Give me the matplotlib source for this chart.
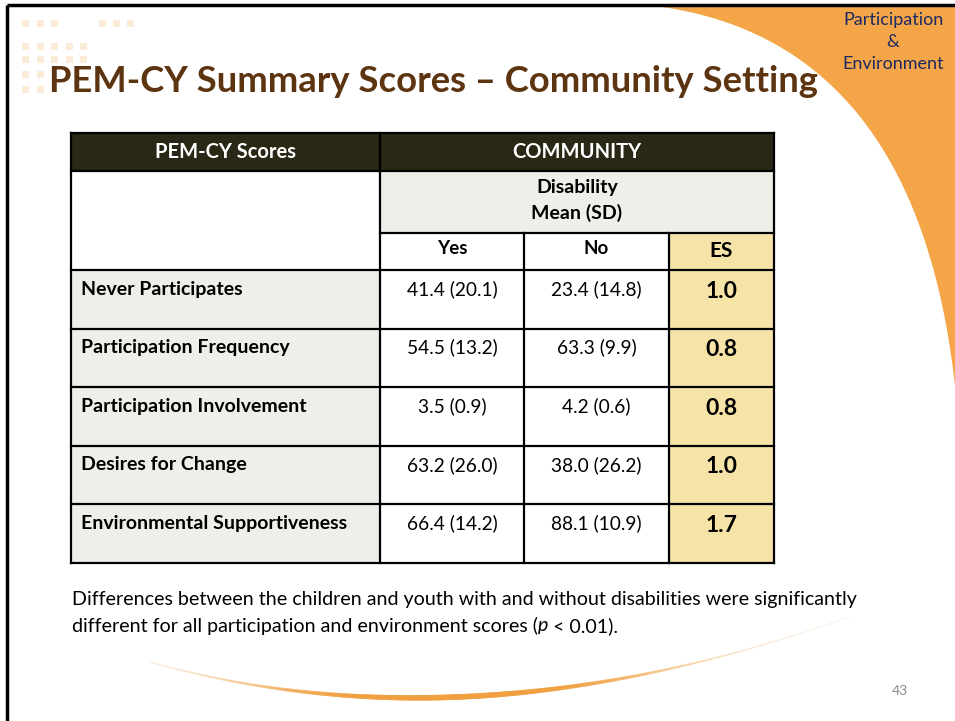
import numpy as np
import matplotlib
matplotlib.use('Agg')
import matplotlib.pyplot as plt
from matplotlib.patches import Rectangle, Polygon
from matplotlib.collections import LineCollection

# table data
score_names = ['Never Participates', 'Participation Frequency', 'Participation Involvement',
               'Desires for Change', 'Environmental Supportiveness']
yes_mean = [41.4, 54.5, 3.5, 63.2, 66.4]
yes_sd = [20.1, 13.2, 0.9, 26.0, 14.2]
no_mean = [23.4, 63.3, 4.2, 38.0, 88.1]
no_sd = [14.8, 9.9, 0.6, 26.2, 10.9]
effect_size = [1.0, 0.8, 0.8, 1.0, 1.7]
col_headers = ['Yes', 'No', 'ES']

title = 'PEM-CY Summary Scores \u2013 Community Setting'
footer_1 = 'Differences between the children and youth with and without disabilities were significantly'
footer_2a = 'different for all participation and environment scores ('
footer_2b = 'p'
footer_2c = ' < 0.01).'
page_num = '43'

FONT = 'Lato'
W, H = 955, 721


def bezier(p0, p1, p2, n):
    t = np.linspace(0, 1, n)[:, None]
    return (1 - t) ** 2 * np.array(p0) + 2 * t * (1 - t) * np.array(p1) + t ** 2 * np.array(p2)


fig = plt.figure(figsize=(W / 100, H / 100), dpi=100)
ax = fig.add_axes([0, 0, 1, 1])
ax.set_xlim(0, W)
ax.set_ylim(H, 0)
ax.axis('off')

# orange corner shape (top right), smooth edge
edge = bezier((655, 6), (920, 40), (956, 395), 200)
ax.add_patch(Polygon(np.vstack([edge, [[W, 395], [W, 6]]]), closed=True,
                     facecolor='#F3A547', edgecolor='none', zorder=1))

# slide frame
ax.plot([7, W], [5, 5], color='black', lw=2.5, zorder=3, solid_capstyle='butt')
ax.plot([7, 7], [5, H], color='black', lw=2.5, zorder=3, solid_capstyle='butt')

# little decorative squares
sq_rows = [(20, [22, 37, 51, 99, 113, 127]),
           (43, [22, 37, 51, 66, 80]),
           (56, [22, 37, 51, 66, 80]),
           (71, [22, 37]),
           (86, [22, 37])]
for yy, xs in sq_rows:
    for xx in xs:
        ax.add_patch(Rectangle((xx, yy), 7, 7, facecolor='#FDEBDA', edgecolor='none', zorder=2))

ax.text(49, 82, title, fontsize=26.2, fontweight='bold', color='#5C3410',
        family=FONT, va='center', ha='left', zorder=4)

for i, line in enumerate(['Participation', '&', 'Environment']):
    ax.text(893, 20 + i * 22, line, fontsize=13, color='#1B2A63', family=FONT,
            ha='center', va='center', zorder=4)

# table geometry
x_cols = [71, 380, 524, 669, 774]
y_head = [133, 171, 233, 270]
y_rows = [270, 328.6, 387.2, 445.8, 504.4, 563]
lw = 1.6

dark = '#292816'
light = '#EDEFE8'
gold = '#F5E3A8'

# header row
ax.add_patch(Rectangle((x_cols[0], y_head[0]), x_cols[-1] - x_cols[0], y_head[1] - y_head[0],
                       facecolor=dark, edgecolor='none', zorder=2))
ax.text((x_cols[0] + x_cols[1]) / 2, 152, 'PEM-CY Scores', color='white', fontsize=14.5,
        fontweight='bold', family=FONT, ha='center', va='center', zorder=4)
ax.text((x_cols[1] + x_cols[-1]) / 2, 152, 'COMMUNITY', color='white', fontsize=14.5,
        fontweight='bold', family=FONT, ha='center', va='center', zorder=4)

# disability sub header
ax.add_patch(Rectangle((x_cols[1], y_head[1]), x_cols[-1] - x_cols[1], y_head[2] - y_head[1],
                       facecolor=light, edgecolor='none', zorder=2))
ax.text((x_cols[1] + x_cols[-1]) / 2, 188, 'Disability', fontsize=14, fontweight='bold',
        family=FONT, ha='center', va='center', zorder=4)
ax.text((x_cols[1] + x_cols[-1]) / 2, 213, 'Mean (SD)', fontsize=14, fontweight='bold',
        family=FONT, ha='center', va='center', zorder=4)

# ES column background
ax.add_patch(Rectangle((x_cols[3], y_head[2]), x_cols[4] - x_cols[3], y_rows[-1] - y_head[2],
                       facecolor=gold, edgecolor='none', zorder=2))

for j, lab in enumerate(col_headers):
    cx = (x_cols[j + 1] + x_cols[j + 2]) / 2
    is_es = lab == 'ES'
    ax.text(cx, 251 if is_es else 249, lab, fontsize=15 if is_es else 13.5, fontweight='bold',
            family=FONT, ha='center', va='center', zorder=4)

# data rows
for i, name in enumerate(score_names):
    top, bot = y_rows[i], y_rows[i + 1]
    ax.add_patch(Rectangle((x_cols[0], top), x_cols[1] - x_cols[0], bot - top,
                           facecolor=light, edgecolor='none', zorder=2))
    ax.text(81, top + 19, name, fontsize=14, fontweight='bold', family=FONT,
            ha='left', va='center', zorder=4)
    ax.text((x_cols[1] + x_cols[2]) / 2, top + 19, f'{yes_mean[i]:.1f} ({yes_sd[i]:.1f})',
            fontsize=13.8, family=FONT, ha='center', va='center', zorder=4)
    ax.text((x_cols[2] + x_cols[3]) / 2, top + 19, f'{no_mean[i]:.1f} ({no_sd[i]:.1f})',
            fontsize=13.8, family=FONT, ha='center', va='center', zorder=4)
    ax.text((x_cols[3] + x_cols[4]) / 2, top + 21, f'{effect_size[i]:.1f}',
            fontsize=16.5, fontweight='bold', family=FONT, ha='center', va='center', zorder=4)

# grid lines
hlines = [(y_head[0], x_cols[0], x_cols[-1]), (y_head[1], x_cols[0], x_cols[-1]),
          (y_head[2], x_cols[1], x_cols[-1])] + [(y, x_cols[0], x_cols[-1]) for y in y_rows]
for y, x0, x1 in hlines:
    ax.plot([x0, x1], [y, y], color='black', lw=lw, zorder=3, solid_capstyle='projecting')
vlines = [(x_cols[0], y_head[0], y_rows[-1]), (x_cols[1], y_head[0], y_rows[-1]),
          (x_cols[2], y_head[2], y_rows[-1]), (x_cols[3], y_head[2], y_rows[-1]),
          (x_cols[4], y_head[0], y_rows[-1])]
for x, y0, y1 in vlines:
    ax.plot([x, x], [y0, y1], color='black', lw=lw, zorder=3, solid_capstyle='projecting')

# footer text
fsize = 14.1
ax.text(72, 599, footer_1, fontsize=fsize, family=FONT, ha='left', va='center', zorder=4)
renderer = fig.canvas.get_renderer()
x_pos = 72
for seg, style in [(footer_2a, 'normal'), (footer_2b, 'italic'), (footer_2c, 'normal')]:
    t = ax.text(x_pos, 626, seg, fontsize=fsize, family=FONT, style=style,
                ha='left', va='center', zorder=4)
    bb = t.get_window_extent(renderer=renderer)
    x_pos += bb.width  # 1 px == 1 data unit here

ax.text(900, 691, page_num, fontsize=10, color='#8C8C8C', family=FONT,
        ha='center', va='center', zorder=4)

# orange swoosh at the bottom
pts = bezier((150, 662), (470, 752), (852, 616), 300)
segs = np.stack([pts[:-1], pts[1:]], axis=1)
tm = np.linspace(0, 1, 300)
tm = (tm[:-1] + tm[1:]) / 2
prof = np.exp(-((tm - 0.45) / 0.28) ** 2)
cols = np.zeros((len(tm), 4))
cols[:, :3] = matplotlib.colors.to_rgb('#F0A040')
cols[:, 3] = 0.05 + 0.95 * prof
lc = LineCollection(segs, colors=cols, linewidths=0.8 + 3.2 * prof, capstyle='round', zorder=2)
ax.add_collection(lc)

fig.savefig('out.png', dpi=100)
